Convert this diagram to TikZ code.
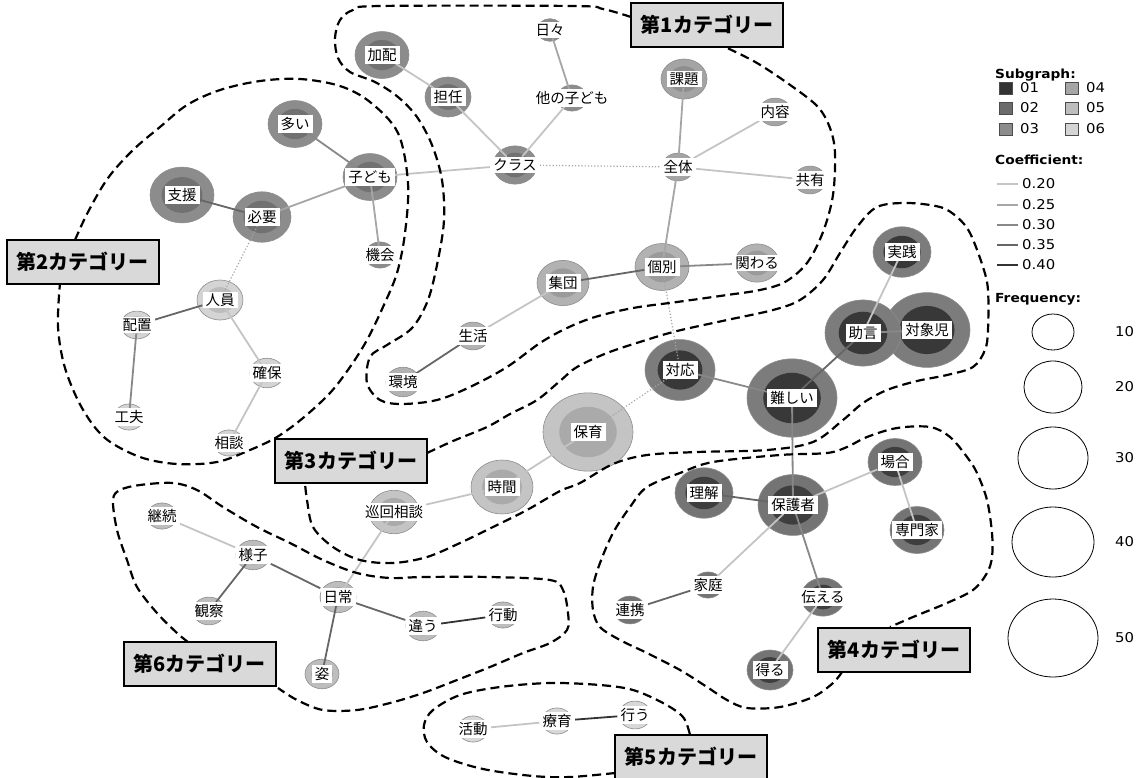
\documentclass[tikz,border=0pt]{standalone}
\usepackage{fontspec}
\setmainfont{DejaVu Sans}[FakeStretch=1.1]
\newfontfamily\jp{Noto Sans CJK JP}
\newfontfamily\jpcat{Noto Sans CJK JP}

\definecolor{gAo}{HTML}{8C8C8C}\definecolor{gAi}{HTML}{717171}
\definecolor{gBo}{HTML}{A4A4A4}\definecolor{gBi}{HTML}{8E8E8E}
\definecolor{gCo}{HTML}{B2B2B2}\definecolor{gCi}{HTML}{9A9A9A}
\definecolor{gDo}{HTML}{7C7C7C}\definecolor{gDi}{HTML}{383838}
\definecolor{gEo}{HTML}{C4C4C4}\definecolor{gEi}{HTML}{AAAAAA}
\definecolor{gFo}{HTML}{D4D4D4}\definecolor{gFi}{HTML}{BCBCBC}
\definecolor{gGo}{HTML}{747474}\definecolor{gGi}{HTML}{3E3E3E}
\definecolor{gHo}{HTML}{D8D8D8}\definecolor{gHi}{HTML}{C2C2C2}
\definecolor{gIo}{HTML}{BDBDBD}\definecolor{gIi}{HTML}{A6A6A6}
\definecolor{e20}{HTML}{C4C4C4}
\definecolor{e25}{HTML}{A6A6A6}
\definecolor{e30}{HTML}{888888}
\definecolor{e35}{HTML}{666666}
\definecolor{e40}{HTML}{333333}
\definecolor{sg1}{HTML}{333333}\definecolor{sg2}{HTML}{6B6B6B}
\definecolor{sg3}{HTML}{8C8C8C}\definecolor{sg4}{HTML}{A6A6A6}
\definecolor{sg5}{HTML}{BDBDBD}\definecolor{sg6}{HTML}{D4D4D4}
\definecolor{boxgray}{HTML}{D9D9D9}

\usetikzlibrary{positioning}
\pgfdeclarelayer{bubbles}
\pgfdeclarelayer{links}
\pgfsetlayers{bubbles,links,main}

% one keyword: name, x, y, radius, colour group, text
\newcommand{\bubble}[6]{%
  \begin{pgfonlayer}{bubbles}
    \filldraw[fill=#5o, draw=black!45, line width=0.6pt] (#2,#3) ellipse [x radius=#4, y radius=0.87*#4];
    \fill[#5i] (#2,#3) ellipse [x radius=0.64*#4, y radius=0.56*#4];
  \end{pgfonlayer}
  \node[kwlabel] (#1) at (#2,#3) {#6};
}

\tikzset{
  kwlabel/.style={fill=white, inner xsep=3pt, inner ysep=2pt, font=\jp\fontsize{14.5}{16}\selectfont},
  catbox/.style={draw=black, line width=2pt, fill=boxgray, minimum width=152pt, minimum height=44pt, inner sep=0pt, font=\jpcat\bfseries\fontsize{20}{22}\selectfont},
  catline/.style={dash pattern=on 9pt off 5pt, line width=2.2pt},
  c20/.style={draw=e20, line width=1.8pt},
  c25/.style={draw=e25, line width=1.8pt},
  c30/.style={draw=e30, line width=1.8pt},
  c35/.style={draw=e35, line width=1.8pt},
  c40/.style={draw=e40, line width=1.8pt},
  weak/.style={draw=black!35, line width=1.2pt, dotted},
  legtitle/.style={font=\bfseries\fontsize{12.5}{14}\selectfont, anchor=west, inner sep=0pt},
  legtext/.style={font=\fontsize{13.5}{15}\selectfont, anchor=west, inner sep=0pt},
  sgbox/.style={draw=black!70, line width=0.6pt}
}

\begin{document}
\begin{tikzpicture}[x=1pt, y=-1pt]
\useasboundingbox (0,0) rectangle (1146,777);

% category regions
\draw[catline] plot[smooth, tension=0.55] coordinates {(631,17) (603,9) (573,6) (380,6) (353,10) (340,20) (335,38) (338,58) (350,72) (375,82) (398,97) (417,117) (432,145) (442,180) (444,220) (438,260) (428,300) (412,328) (387,345) (370,357) (367,383) (380,400) (402,404) (437,400) (470,387) (507,367) (540,343) (567,328) (595,317) (633,308) (677,302) (727,295) (760,290) (785,282) (807,263) (823,232) (833,195) (835,153) (830,128) (818,107) (793,87) (757,63) (723,46)};
\draw[catline] plot[smooth, tension=0.55] coordinates {(75,240) (88,212) (108,178) (133,150) (160,127) (187,105) (220,90) (260,81) (300,79) (340,86) (370,102) (398,133) (408,183) (405,233) (397,273) (383,307) (367,340) (350,367) (330,393) (303,418) (277,437) (250,450) (217,462) (177,464) (140,457) (105,438) (82,408) (65,368) (58,327) (60,283)};
\draw[catline] plot[smooth, tension=0.55] coordinates {(427,453) (453,441) (487,427) (510,414) (537,400) (560,381) (577,367) (607,353) (643,341) (677,331) (727,320) (773,310) (800,300) (823,280) (840,253) (857,227) (877,207) (907,203) (940,207) (957,217) (970,233) (983,267) (988,290) (988,330) (985,350) (973,367) (947,375) (917,381) (887,390) (863,403) (843,420) (813,442) (767,450) (697,452) (647,455) (613,464) (580,483) (560,491) (527,510) (493,527) (460,543) (427,557) (393,563) (360,560) (333,547) (313,527) (307,500) (305,483)};
\draw[catline] plot[smooth, tension=0.55] coordinates {(842,672) (833,683) (813,697) (780,707) (747,708) (727,700) (707,687) (680,670) (647,653) (620,640) (600,627) (593,610) (593,587) (600,563) (613,533) (630,507) (647,487) (680,473) (713,462) (780,455) (827,453) (847,447) (867,437) (897,428) (930,427) (950,437) (967,457) (977,473) (987,500) (992,533) (992,557) (987,573) (973,590) (947,603) (913,617) (890,627)};
\draw[catline] plot[smooth, tension=0.55] coordinates {(615,773) (570,777) (533,776) (483,769) (445,757) (427,742) (424,725) (433,710) (460,695) (500,687) (550,683) (600,685) (633,690) (663,703) (683,717) (690,735)};
\draw[catline] plot[smooth, tension=0.55] coordinates {(188,642) (177,633) (157,613) (137,587) (127,560) (117,530) (113,500) (120,490) (140,485) (173,483) (197,490) (223,507) (257,527) (290,543) (323,560) (357,573) (390,578) (423,577) (490,577) (550,580) (563,590) (568,613) (567,630) (550,643) (523,653) (490,667) (457,680) (423,693) (390,703) (357,710) (323,710) (297,700) (278,688)};

% keywords
\bubble{kahai}{382}{55}{27}{gA}{加配}
\bubble{tannin}{448}{97}{23}{gA}{担任}
\bubble{hibi}{550}{30}{13}{gA}{日々}
\bubble{hoka}{572}{98}{15}{gA}{他の子ども}
\bubble{kurasu}{515}{165}{22}{gA}{クラス}
\bubble{kodomo}{370}{177}{27}{gA}{子ども}
\bubble{kadai}{684}{79}{23}{gB}{課題}
\bubble{naiyo}{775}{112}{16}{gB}{内容}
\bubble{zentai}{678}{167}{16}{gB}{全体}
\bubble{kyoyu}{810}{180}{16}{gB}{共有}
\bubble{kobetsu}{662}{267}{27}{gC}{個別}
\bubble{kakawaru}{757}{263}{22}{gC}{関わる}
\bubble{shudan}{563}{283}{26}{gC}{集団}
\bubble{seikatsu}{473}{336}{16}{gC}{生活}
\bubble{kankyo}{403}{382}{17}{gC}{環境}
\bubble{oi}{295}{124}{27}{gA}{多い}
\bubble{shien}{182}{195}{32}{gA}{支援}
\bubble{hitsuyo}{262}{217}{29}{gA}{必要}
\bubble{kikai}{380}{255}{15}{gA}{機会}
\bubble{jinin}{220}{300}{23}{gF}{人員}
\bubble{haichi}{137}{325}{16}{gF}{配置}
\bubble{kakuho}{267}{373}{17}{gF}{確保}
\bubble{kufu}{129}{417}{15}{gF}{工夫}
\bubble{sodan}{229}{443}{15}{gF}{相談}
\bubble{taio}{680}{370}{35}{gD}{対応}
\bubble{hoiku}{588}{432}{45}{gE}{保育}
\bubble{jikan}{502}{487}{31}{gE}{時間}
\bubble{junkai}{394}{512}{25}{gE}{巡回相談}
\bubble{muzu}{792}{398}{45}{gD}{難しい}
\bubble{taisho}{927}{330}{43}{gD}{対象児}
\bubble{jogen}{863}{333}{38}{gD}{助言}
\bubble{jissen}{902}{252}{29}{gD}{実践}
\bubble{hogosha}{793}{505}{35}{gG}{保護者}
\bubble{rikai}{704}{493}{29}{gG}{理解}
\bubble{baai}{895}{462}{27}{gG}{場合}
\bubble{senmon}{917}{530}{27}{gG}{専門家}
\bubble{katei}{708}{585}{15}{gG}{家庭}
\bubble{renkei}{630}{610}{16}{gG}{連携}
\bubble{tsutaeru}{823}{597}{22}{gG}{伝える}
\bubble{eru}{770}{670}{23}{gG}{得る}
\bubble{katsudo}{473}{729}{15}{gH}{活動}
\bubble{ryoiku}{557}{721}{15}{gH}{療育}
\bubble{okonau}{635}{715}{16}{gH}{行う}
\bubble{keizoku}{162}{516}{15}{gI}{継続}
\bubble{yosu}{253}{555}{17}{gI}{様子}
\bubble{kansatsu}{209}{611}{16}{gI}{観察}
\bubble{nichijo}{338}{597}{18}{gI}{日常}
\bubble{chigau}{423}{626}{17}{gI}{違う}
\bubble{kodo}{503}{615}{15}{gI}{行動}
\bubble{sugata}{322}{674}{17}{gI}{姿}

% co-occurrence links
\begin{pgfonlayer}{links}
\draw[c20] (kahai) -- (tannin);
\draw[c20] (tannin) -- (kurasu);
\draw[c25] (hibi) -- (hoka);
\draw[c20] (hoka) -- (kurasu);
\draw[c20] (kurasu) -- (kodomo);
\draw[weak] (kurasu) -- (zentai);
\draw[c25] (kadai) -- (zentai);
\draw[c20] (naiyo) -- (zentai);
\draw[c20] (zentai) -- (kyoyu);
\draw[c25] (zentai) -- (kobetsu);
\draw[c30] (kobetsu) -- (kakawaru);
\draw[c35] (kobetsu) -- (shudan);
\draw[c20] (shudan) -- (seikatsu);
\draw[c35] (seikatsu) -- (kankyo);
\draw[weak] (kobetsu) -- (taio);
\draw[c30] (oi) -- (kodomo);
\draw[c25] (kodomo) -- (hitsuyo);
\draw[c25] (kodomo) -- (kikai);
\draw[c35] (shien) -- (hitsuyo);
\draw[weak] (hitsuyo) -- (jinin);
\draw[c35] (jinin) -- (haichi);
\draw[c20] (jinin) -- (kakuho);
\draw[c30] (haichi) -- (kufu);
\draw[c20] (kakuho) -- (sodan);
\draw[c30] (taio) -- (muzu);
\draw[weak] (taio) -- (hoiku);
\draw[c20] (hoiku) -- (jikan);
\draw[c20] (jikan) -- (junkai);
\draw[c20] (junkai) -- (nichijo);
\draw[c35] (muzu) -- (jogen);
\draw[c20] (jogen) -- (jissen);
\draw[c30] (jogen) -- (taisho);
\draw[c30] (muzu) -- (hogosha);
\draw[c35] (hogosha) -- (rikai);
\draw[c20] (hogosha) -- (baai);
\draw[c20] (baai) -- (senmon);
\draw[c20] (hogosha) -- (katei);
\draw[c35] (katei) -- (renkei);
\draw[c30] (hogosha) -- (tsutaeru);
\draw[c20] (tsutaeru) -- (eru);
\draw[c20] (katsudo) -- (ryoiku);
\draw[c40] (ryoiku) -- (okonau);
\draw[c20] (keizoku) -- (yosu);
\draw[c35] (yosu) -- (kansatsu);
\draw[c35] (yosu) -- (nichijo);
\draw[c35] (nichijo) -- (chigau);
\draw[c40] (chigau) -- (kodo);
\draw[c35] (nichijo) -- (sugata);
\end{pgfonlayer}

% category labels
\node[catbox] (cat1) at (707,24.5) {第1カテゴリー};
\node[catbox] (cat2) at (82.5,261.5) {第2カテゴリー};
\node[catbox] (cat3) at (351,460.5) {第3カテゴリー};
\node[catbox] (cat4) at (894,649.5) {第4カテゴリー};
\node[catbox] (cat5) at (691,757) {第5カテゴリー};
\node[catbox] (cat6) at (199.5,664) {第6カテゴリー};

% legend
\node[legtitle] (sgtitle) at (995,75) {Subgraph:};
\filldraw[sgbox, fill=sg1] (999,82) rectangle (1012,94);
\filldraw[sgbox, fill=sg2] (999,102) rectangle (1012,114);
\filldraw[sgbox, fill=sg3] (999,123) rectangle (1012,135);
\filldraw[sgbox, fill=sg4] (1065,82) rectangle (1078,94);
\filldraw[sgbox, fill=sg5] (1065,102) rectangle (1078,114);
\filldraw[sgbox, fill=sg6] (1065,123) rectangle (1078,135);
\node[legtext] at (1020,88) {01};
\node[legtext] at (1020,108) {02};
\node[legtext] at (1020,129) {03};
\node[legtext] at (1086,88) {04};
\node[legtext] at (1086,108) {05};
\node[legtext] at (1086,129) {06};

\node[legtitle] (cftitle) at (995,160) {Coefficient:};
\draw[c20] (997,184) -- (1018,184);
\draw[c25] (997,205) -- (1018,205);
\draw[c30] (997,225) -- (1018,225);
\draw[c35] (997,245) -- (1018,245);
\draw[c40] (997,265) -- (1018,265);
\node[legtext] at (1022,184) {0.20};
\node[legtext] at (1022,205) {0.25};
\node[legtext] at (1022,225) {0.30};
\node[legtext] at (1022,245) {0.35};
\node[legtext] at (1022,265) {0.40};

\node[legtitle] (frtitle) at (995,299) {Frequency:};
\draw[line width=0.8pt] (1053,332) ellipse [x radius=21, y radius=18];
\draw[line width=0.8pt] (1053,387) ellipse [x radius=29, y radius=26];
\draw[line width=0.8pt] (1053,458) ellipse [x radius=35, y radius=31];
\draw[line width=0.8pt] (1053,542) ellipse [x radius=41, y radius=35];
\draw[line width=0.8pt] (1053,638) ellipse [x radius=45, y radius=39];
\node[legtext] at (1115,332) {10};
\node[legtext] at (1115,387) {20};
\node[legtext] at (1115,458) {30};
\node[legtext] at (1115,542) {40};
\node[legtext] at (1115,638) {50};
\end{tikzpicture}
\end{document}
